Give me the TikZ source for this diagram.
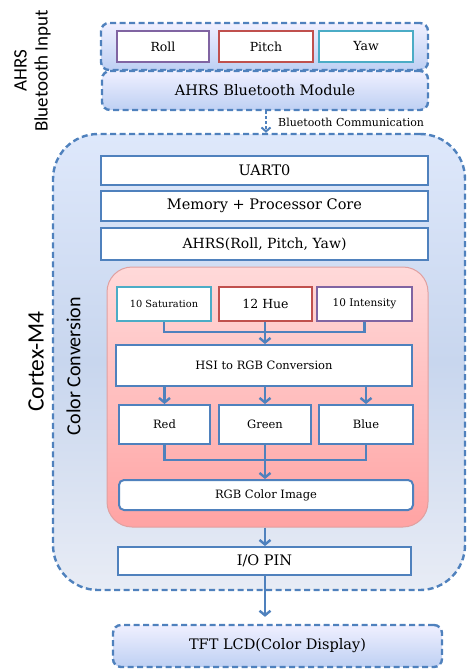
\documentclass[tikz,border=0pt]{standalone}
\usepackage{fontspec}
\setmainfont{DejaVu Serif}
\newfontfamily\carl{Carlito}
\usetikzlibrary{arrows.meta}
\definecolor{bl}{HTML}{4F81BD}
\definecolor{purp}{HTML}{8064A2}
\definecolor{redc}{HTML}{C0504D}
\definecolor{teal}{HTML}{4BACC6}
\definecolor{pinkb}{HTML}{E0A0A0}
\newcommand\fsz[1]{\fontsize{#1}{#1}\selectfont}
\tikzset{
  wbox/.style={draw=bl, line width=2pt, fill=white, inner sep=0pt, anchor=center},
  dbox/.style={draw=bl, line width=2.4pt, dash pattern=on 6pt off 3.5pt, rounded corners=8pt, inner sep=0pt,
    top color=blue!6!white, bottom color={rgb,255:red,190;green,208;blue,243}},
  arr/.style={draw=bl, line width=2.4pt, -{Straight Barb[length=4.5pt,width=11pt,line width=2.4pt]}},
  conn/.style={draw=bl, line width=2.4pt},
  side/.style={rotate=90, inner sep=0pt, anchor=center},
}
\begin{document}
\begin{tikzpicture}[x=1pt,y=-1pt]
\useasboundingbox (0,0) rectangle (467,669);
% left labels
\node[side, font=\carl\fsz{19}] (ahrsl) at (20.5,70.5) {AHRS};
\node[side, font=\carl\fsz{19}] (btin) at (42.5,71) {Bluetooth Input};
% top group
\node[dbox, minimum width=327pt, minimum height=47pt] (topg) at (264.5,46.5) {};
\node[wbox, draw=purp, minimum width=92pt, minimum height=31pt, font=\fsz{12.5}] (roll) at (163,46.5) {Roll};
\node[wbox, draw=redc, minimum width=94pt, minimum height=31pt, font=\fsz{12.5}] (pitch) at (266,46.5) {Pitch};
\node[wbox, draw=teal, minimum width=94pt, minimum height=31pt, font=\fsz{12.5}] (yaw) at (366,46.5) {Yaw};
\node[dbox, minimum width=326pt, minimum height=39pt, font=\fsz{14.5}] (btm) at (265,90.5) {AHRS Bluetooth Module};
% cortex
\node[draw=bl, line width=2.4pt, dash pattern=on 6pt off 3.5pt, rounded corners=45pt, inner sep=0pt,
  top color={rgb,255:red,222;green,232;blue,251}, bottom color={rgb,255:red,232;green,236;blue,245},
  middle color={rgb,255:red,200;green,214;blue,238},
  minimum width=412pt, minimum height=456pt] (cortex) at (259,362) {};
\draw[draw=bl, line width=2pt, dash pattern=on 3pt off 2pt, -{Straight Barb[length=4pt,width=9pt,line width=2pt]}]
  (btm.south -| 266,0) -- (cortex.north -| 266,0);
\node[anchor=west, inner sep=0pt, font=\fsz{11}] (btc) at (278,122) {Bluetooth Communication};
\node[side, font=\carl\fsz{23.5}] (cm4) at (36,361.5) {Cortex-M4};
\node[side, font=\carl\fsz{20}] (ccl) at (73.5,366) {Color Conversion};
\node[wbox, minimum width=327pt, minimum height=29pt, font=\fsz{14.5}] (uart) at (264.5,170.5) {UART0};
\node[wbox, minimum width=327pt, minimum height=30pt, font=\fsz{14.5}] (mem) at (264.5,206) {Memory + Processor Core};
\node[wbox, minimum width=327pt, minimum height=32pt, font=\fsz{14}] (ahrs) at (264.5,244) {AHRS(Roll, Pitch, Yaw)};
% color conversion
\node[draw=pinkb, line width=1pt, rounded corners=25pt, inner sep=0pt,
  top color={rgb,255:red,255;green,217;blue,217}, bottom color={rgb,255:red,255;green,163;blue,163},
  minimum width=321pt, minimum height=260pt] (pink) at (267.5,397) {};
\node[wbox, draw=teal, minimum width=94pt, minimum height=34pt, font=\fsz{9.8}] (sat) at (164,304) {10 Saturation};
\node[wbox, draw=redc, minimum width=93pt, minimum height=34pt, font=\fsz{12.5}] (hue) at (265.5,304) {12 Hue};
\node[wbox, draw=purp, minimum width=95pt, minimum height=34pt, font=\fsz{10.5}] (int) at (364.5,304) {10 Intensity};
\node[wbox, minimum width=296pt, minimum height=41pt, font=\fsz{11.5}] (hsi) at (264,365.5) {HSI to RGB Conversion};
\coordinate (j1) at (265,332);
\draw[conn] (sat.south) |- (j1) -| (int.south);
\draw[arr] (hue.south -| j1) -- (hsi.north -| j1);
\node[wbox, minimum width=91pt, minimum height=39pt, font=\fsz{11.5}] (red) at (164.5,424.5) {Red};
\node[wbox, minimum width=92pt, minimum height=39pt, font=\fsz{11.5}] (green) at (265,424.5) {Green};
\node[wbox, minimum width=94pt, minimum height=39pt, font=\fsz{11.5}] (blue) at (366,424.5) {Blue};
\draw[arr] (hsi.south -| red) -- (red.north);
\draw[arr] (hsi.south -| green) -- (green.north);
\draw[arr] (hsi.south -| blue) -- (blue.north);
\node[wbox, rounded corners=5pt, minimum width=294pt, minimum height=30pt, font=\fsz{11.5}] (rgb) at (266,495) {RGB Color Image};
\coordinate (j2) at (265,460);
\draw[conn] (red.south) |- (j2) -| (blue.south);
\draw[arr] (green.south -| j2) -- (rgb.north -| j2);
\node[wbox, minimum width=293pt, minimum height=28pt, font=\fsz{14.5}] (io) at (264.5,561) {I/O PIN};
\draw[arr] (pink.south -| j2) -- (io.north -| j2);
% TFT
\node[dbox, minimum width=329pt, minimum height=42pt, font=\fsz{14.5}] (tft) at (277.5,646) {TFT LCD(Color Display)};
\draw[arr, shorten >=7pt] (io.south -| j2) -- (tft.north -| j2);
\end{tikzpicture}
\end{document}
